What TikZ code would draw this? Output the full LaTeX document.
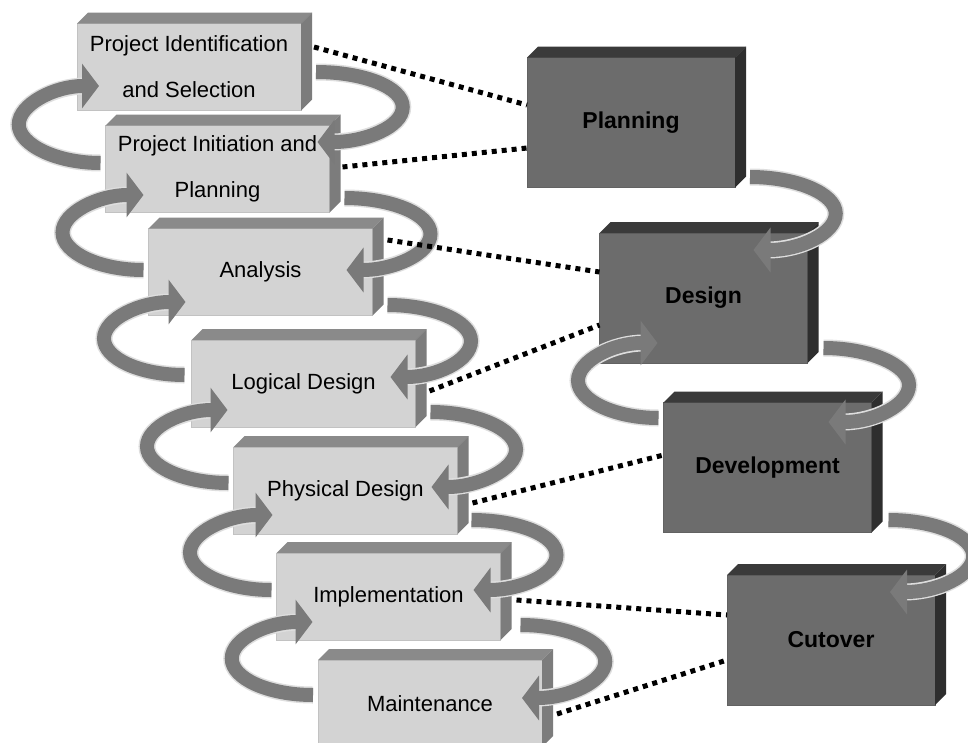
\documentclass[tikz,border=0pt]{standalone}
\usepackage{fontspec}
\setmainfont{Liberation Sans}
\usetikzlibrary{arrows.meta,calc}

% palette
\definecolor{lfront}{HTML}{D3D3D3}
\definecolor{lrim}{HTML}{C2C2C2}
\definecolor{ltop}{HTML}{8A8A8A}
\definecolor{lside}{HTML}{7C7C7C}
\definecolor{dfront}{HTML}{6C6C6C}
\definecolor{drim}{HTML}{626262}
\definecolor{dtop}{HTML}{3A3A3A}
\definecolor{dside}{HTML}{2E2E2E}
\definecolor{bandgray}{HTML}{7A7A7A}
\definecolor{halogray}{HTML}{DEDEDE}

\tikzset{
  lbox/.style={rectangle, fill=lfront, draw=lrim, line width=0.8pt,
    minimum width=224pt, minimum height=87pt, inner sep=0pt, outer sep=0pt,
    align=center, font=\fontsize{22}{46}\selectfont},
  dbox/.style={rectangle, fill=dfront, draw=drim, line width=0.8pt,
    minimum width=208pt, minimum height=130pt, inner sep=0pt, outer sep=0pt,
    font=\bfseries\fontsize{23}{27}\selectfont},
  band/.style={line width=14pt, draw=bandgray,
    -{Triangle[length=17pt 0 1, width=44pt 0 1]}},
  halo/.style={line width=17pt, draw=halogray, shorten >=14pt},
  dotline/.style={line width=5pt, dash pattern=on 5pt off 5pt, black}
}

% top and right faces of a box node: #1 node, #2 depth, #3 top colour, #4 side colour
\newcommand\boxfaces[4]{%
  \fill[#3] (#1.north west) -- ++(#2,-#2) -- ([shift={(#2,-#2)}]#1.north east)
    -- (#1.north east) -- cycle;
  \fill[#4] (#1.north east) -- ++(#2,-#2) -- ([shift={(#2,-#2)}]#1.south east)
    -- (#1.south east) -- cycle;}

% looping arrow: #1 start, #2 tip, #3 horizontal reach, #4 handle towards the start
\newcommand\swirl[4]{%
  \draw[halo] (#1) .. controls +({0.55*(#3)},0) and +(0,#4)
    .. ($(#1)!0.5!(#2)+(#3,0)$) .. controls +(0,{-(#4)}) and +({0.55*(#3)},0) .. (#2);
  \draw[band] (#1) .. controls +({0.55*(#3)},0) and +(0,#4)
    .. ($(#1)!0.5!(#2)+(#3,0)$) .. controls +(0,{-(#4)}) and +({0.55*(#3)},0) .. (#2);}

\begin{document}
\begin{tikzpicture}[x=1pt, y=-1pt]
\useasboundingbox (0,0) rectangle (968,742);
\clip (0,0) rectangle (968,742);
\fill[white] (0,0) rectangle (968,742);

% phase boxes
\node[dbox] (plan) at (631,122.5) {Planning};
\node[dbox] (des)  at (703.5,298) {Design};
\node[dbox] (dev)  at (767.5,467.5) {Development};
\node[dbox] (cut)  at (831,640) {Cutover};
\foreach \n in {plan,des,dev,cut} {\boxfaces{\n}{11}{dtop}{dside}}

% step boxes
\node[lbox] (b1) at (189,67) {Project Identification\\and Selection};
\node[lbox] (b2) at (217.5,169) {Project Initiation and\\Planning};
\node[lbox] (b3) at (260.5,272) {Analysis};
\node[lbox] (b4) at (303.5,383.5) {Logical Design};
\node[lbox] (b5) at (345.5,490.5) {Physical Design};
\node[lbox] (b6) at (388.5,596.5) {Implementation};
\node[lbox] (b7) at (430,703.5) {Maintenance};
\foreach \n in {b1,b2,b3,b4,b5,b6,b7} {\boxfaces{\n}{11}{ltop}{lside}}

% loop ends
\coordinate (r1s) at ([shift={(15,5)}]b1.east);
\coordinate (r1t) at ([shift={(-12,-27)}]b2.east);
\coordinate (r2s) at ([shift={(15,29)}]b2.east);
\coordinate (r2t) at ([shift={(-26,-2)}]b3.east);
\coordinate (r3s) at ([shift={(15,33)}]b3.east);
\coordinate (r3t) at ([shift={(-25,-6.5)}]b4.east);
\coordinate (r4s) at ([shift={(15,28.5)}]b4.east);
\coordinate (r4t) at ([shift={(-26,-3.5)}]b5.east);
\coordinate (r5s) at ([shift={(14,29.5)}]b5.east);
\coordinate (r5t) at ([shift={(-27,-6.5)}]b6.east);
\coordinate (r6s) at ([shift={(20,28.5)}]b6.east);
\coordinate (r6t) at ([shift={(-20,-5.5)}]b7.east);

\coordinate (l1s) at ([shift={(-5,-6)}]b2.west);
\coordinate (l1t) at ([shift={(22,19)}]b1.west);
\coordinate (l2s) at ([shift={(-5,-2)}]b3.west);
\coordinate (l2t) at ([shift={(38,26)}]b2.west);
\coordinate (l3s) at ([shift={(-7,-8.5)}]b4.west);
\coordinate (l3t) at ([shift={(37,30)}]b3.west);
\coordinate (l4s) at ([shift={(-5,-7.5)}]b5.west);
\coordinate (l4t) at ([shift={(36,26.5)}]b4.west);
\coordinate (l5s) at ([shift={(-5,-6.5)}]b6.west);
\coordinate (l5t) at ([shift={(39,24.5)}]b5.west);
\coordinate (l6s) at ([shift={(-5,-8.5)}]b7.west);
\coordinate (l6t) at ([shift={(36,25.5)}]b6.west);

\coordinate (p1s) at ([shift={(15,54.5)}]plan.east);
\coordinate (p1t) at ([shift={(-54,-48)}]des.east);
\coordinate (p2s) at ([shift={(16,50)}]des.east);
\coordinate (p2t) at ([shift={(-43,-45.5)}]dev.east);
\coordinate (p3s) at ([shift={(17,52.5)}]dev.east);
\coordinate (p3t) at ([shift={(-45,-48)}]cut.east);
\coordinate (q1s) at ([shift={(-5,-49.5)}]dev.west);
\coordinate (q1t) at ([shift={(58,45)}]des.west);

% forward loops on the right, feedback loops on the left
\swirl{r1s}{r1t}{86}{-20}
\swirl{r2s}{r2t}{85}{-20}
\swirl{r3s}{r3t}{82}{-20}
\swirl{r4s}{r4t}{85}{-20}
\swirl{r5s}{r5t}{84}{-20}
\swirl{r6s}{r6t}{84}{-20}
\swirl{l1s}{l1t}{-81}{20}
\swirl{l2s}{l2t}{-81}{20}
\swirl{l3s}{l3t}{-81}{20}
\swirl{l4s}{l4t}{-81}{20}
\swirl{l5s}{l5t}{-82}{20}
\swirl{l6s}{l6t}{-81}{20}
\swirl{p1s}{p1t}{84}{-20}
\swirl{p2s}{p2t}{83}{-20}
\swirl{p3s}{p3t}{84}{-20}
\swirl{q1s}{q1t}{-80}{20}

% dotted links from steps to phases
\draw[dotline] ([shift={(13,-20)}]b1.east) -- ([shift={(0,-17.5)}]plan.west);
\draw[dotline] ([shift={(13,-2)}]b2.east) -- ([shift={(0,25.5)}]plan.west);
\draw[dotline] ([shift={(15,-32)}]b3.east) -- ([shift={(0,-26)}]des.west);
\draw[dotline] ([shift={(14,7.5)}]b4.east) -- ([shift={(0,27)}]des.west);
\draw[dotline] ([shift={(15,12.5)}]b5.east) -- ([shift={(0,-12.5)}]dev.west);
\draw[dotline] ([shift={(16,3.5)}]b6.east) -- ([shift={(0,-25)}]cut.west);
\draw[dotline] ([shift={(15,10.5)}]b7.east) -- ([shift={(0,20)}]cut.west);
\end{tikzpicture}
\end{document}
